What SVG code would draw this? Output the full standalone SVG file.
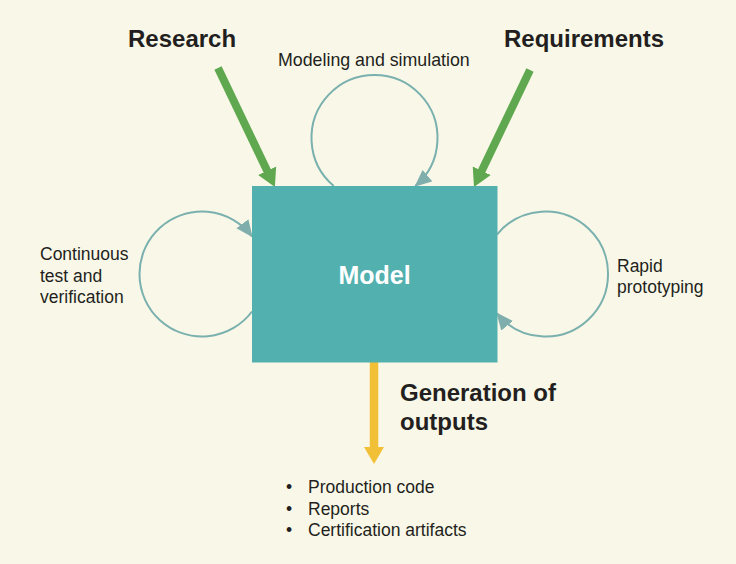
<svg xmlns="http://www.w3.org/2000/svg" width="736" height="564" viewBox="0 0 736 564">
<defs>
<style>
.t{font-family:"Liberation Sans",Arial,sans-serif;fill:#231F20}
.b{font-weight:bold;font-size:24px}
.r{font-size:17.5px}
.loop{fill:none;stroke:#7AB0AE;stroke-width:2}
.green{stroke:#5FA84F;stroke-width:8;fill:none}
.yellow{stroke:#F2C037;stroke-width:8.5;fill:none}
</style>
<marker id="tealHead" markerUnits="userSpaceOnUse" markerWidth="18" markerHeight="16" refX="16" refY="7.5" orient="auto" viewBox="0 0 18 15">
<path d="M0,0 L17,7.5 L0,15 z" fill="#7FAEAC"/>
</marker>
<marker id="greenHead" markerUnits="userSpaceOnUse" markerWidth="20" markerHeight="22" refX="8" refY="10" orient="auto" viewBox="0 0 20 20">
<path d="M0,0 L18,10 L0,20 z" fill="#5FA84F"/>
</marker>
<marker id="yellowHead" markerUnits="userSpaceOnUse" markerWidth="20" markerHeight="22" refX="7" refY="10" orient="auto" viewBox="0 0 20 20">
<path d="M0,0 L17,10 L0,20 z" fill="#F2C037"/>
</marker>
</defs>
<rect x="0" y="0" width="736" height="564" fill="#F9F8E8"/>
<g id="connectors">
<path class="loop" d="M333.7,186 A63,63 0 1 1 415.3,186" marker-end="url(#tealHead)"/>
<path class="loop" d="M252,311.5 A62.5,62.5 0 1 1 252,236.5" marker-end="url(#tealHead)"/>
<path class="loop" d="M497,234.6 A62.5,62.5 0 1 1 497,313.4" marker-end="url(#tealHead)"/>
<line class="green" x1="218" y1="68" x2="270.6" y2="178" marker-end="url(#greenHead)"/>
<line class="green" x1="530" y1="70" x2="478.3" y2="178" marker-end="url(#greenHead)"/>
<line class="yellow" x1="374" y1="362" x2="374" y2="454" marker-end="url(#yellowHead)"/>
</g>
<g id="model">
<rect x="252" y="186" width="245.5" height="176.5" fill="#52B0AF"/>
<text class="t b" x="374.5" y="284" text-anchor="middle" style="fill:#FFFFFF;font-size:25px">Model</text>
</g>
<g id="research">
<text class="t b" x="128" y="47">Research</text>
</g>
<g id="requirements">
<text class="t b" x="504" y="47">Requirements</text>
</g>
<g id="modeling-label">
<text class="t" x="278" y="66" style="font-size:17.8px">Modeling and simulation</text>
</g>
<g id="test-label">
<text class="t r" x="40" y="260">Continuous</text>
<text class="t r" x="40" y="281.5">test and</text>
<text class="t r" x="40" y="303">verification</text>
</g>
<g id="rapid-label">
<text class="t r" x="617" y="271.5">Rapid</text>
<text class="t r" x="617" y="293">prototyping</text>
</g>
<g id="outputs">
<text class="t b" x="400" y="401">Generation of</text>
<text class="t b" x="400" y="430">outputs</text>
</g>
<g id="output-list">
<text class="t r" x="286" y="493">•</text>
<text class="t r" x="308" y="493">Production code</text>
<text class="t r" x="286" y="514.5">•</text>
<text class="t r" x="308" y="514.5">Reports</text>
<text class="t r" x="286" y="536">•</text>
<text class="t r" x="308" y="536">Certification artifacts</text>
</g>
</svg>
